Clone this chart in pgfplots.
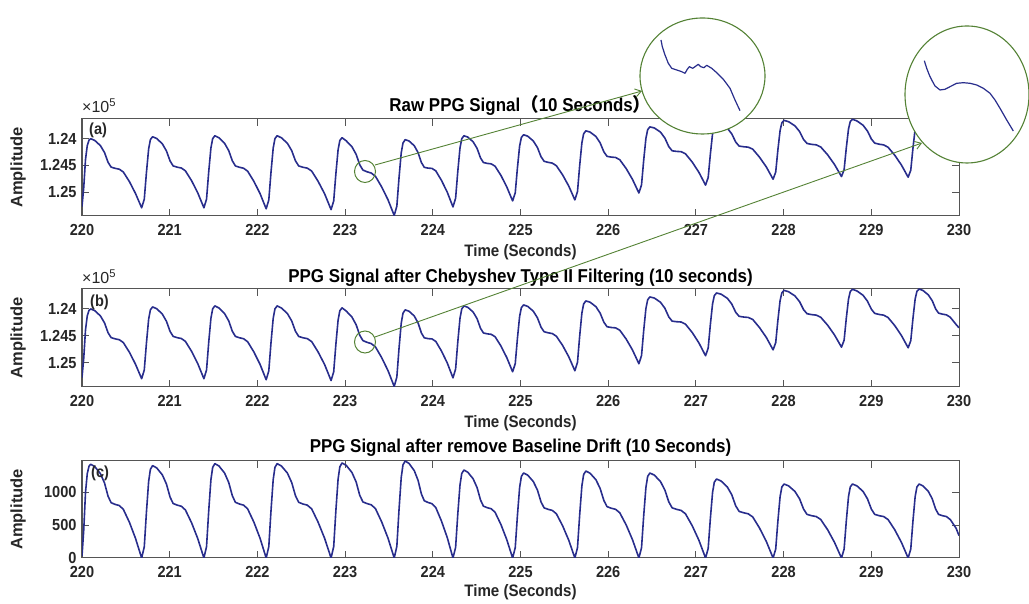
\documentclass[border=0pt]{standalone}
\usepackage{pgfplots}
\pgfplotsset{compat=1.18}
\usepackage{pgfplotstable}
\usepackage{fontspec}
\setmainfont{Liberation Sans}[FakeStretch=0.91]
\newfontfamily\plainsans{Liberation Sans}
\newfontfamily\cjk{Noto Sans CJK SC}
\usetikzlibrary{arrows.meta}

\definecolor{sig}{RGB}{40,45,140}
\definecolor{zoomgreen}{RGB}{84,130,53}
\definecolor{axgray}{RGB}{85,85,85}
\definecolor{txt}{RGB}{38,38,38}

% t = time (s), a = raw / filtered amplitude, c = after baseline removal
\pgfplotstableread{
t a c
220.000 125274 28
220.020 124910 426
220.040 124390 994
220.060 124130 1278
220.080 124026 1392
220.100 124000 1420
220.146 124033 1385
220.210 124130 1278
220.257 124260 1136
220.297 124442 937
220.332 124533 838
220.378 124556 812
220.425 124572 795
220.471 124624 738
220.541 124806 540
220.610 125027 298
220.680 125296 0
220.710 125136 168
220.735 124630 700
220.760 124190 1162
220.780 124016 1344
220.805 123963 1400
220.852 123996 1365
220.916 124096 1260
220.963 124230 1120
221.004 124416 924
221.039 124510 826
221.086 124534 801
221.133 124550 784
221.179 124603 728
221.250 124789 532
221.320 125016 294
221.390 125296 0
221.420 125134 172
221.445 124620 715
221.470 124174 1187
221.490 123998 1373
221.515 123944 1430
221.562 123983 1394
221.626 124087 1287
221.673 124223 1144
221.714 124414 944
221.749 124510 844
221.796 124536 818
221.843 124554 801
221.889 124610 744
221.960 124800 543
222.030 125029 300
222.100 125315 0
222.130 125150 172
222.155 124629 715
222.180 124177 1187
222.200 123999 1373
222.225 123944 1430
222.274 123983 1394
222.342 124086 1287
222.391 124223 1144
222.434 124415 944
222.471 124511 844
222.520 124536 818
222.569 124552 801
222.619 124607 744
222.692 124799 543
222.766 125032 300
222.840 125330 0
222.870 125168 173
222.895 124655 720
222.920 124209 1195
222.940 124034 1382
222.965 123980 1440
223.013 124040 1404
223.078 124151 1296
223.126 124294 1152
223.167 124489 950
223.203 124588 850
223.251 124621 824
223.298 124644 806
223.346 124705 749
223.417 124905 547
223.489 125145 302
223.560 125440 0
223.590 125266 176
223.615 124731 735
223.640 124266 1220
223.660 124080 1411
223.685 124018 1470
223.729 124043 1433
223.789 124132 1323
223.832 124261 1176
223.870 124447 970
223.903 124537 867
223.947 124552 841
223.990 124557 823
224.034 124603 764
224.099 124782 559
224.165 125004 309
224.230 125280 0
224.260 125117 160
224.285 124613 667
224.310 124176 1106
224.330 124001 1280
224.355 123944 1333
224.399 123970 1300
224.460 124058 1200
224.505 124182 1066
224.544 124360 880
224.577 124446 786
224.621 124463 762
224.666 124472 746
224.710 124516 693
224.777 124689 507
224.843 124902 280
224.910 125167 0
224.940 125018 155
224.965 124547 644
224.990 124137 1069
225.010 123976 1236
225.035 123926 1288
225.082 123952 1256
225.146 124043 1159
225.193 124165 1030
225.234 124338 850
225.269 124424 760
225.316 124444 737
225.363 124458 721
225.409 124507 670
225.480 124678 489
225.550 124888 270
225.620 125148 0
225.650 124990 158
225.675 124501 659
225.700 124077 1094
225.720 123907 1265
225.745 123852 1318
225.793 123875 1285
225.860 123958 1186
225.908 124078 1054
225.951 124248 870
225.987 124331 778
226.035 124345 754
226.084 124352 738
226.132 124395 685
226.205 124560 501
226.277 124763 277
226.350 125018 0
226.380 124866 155
226.405 124399 644
226.430 123993 1069
226.450 123831 1236
226.475 123778 1288
226.526 123798 1256
226.596 123876 1159
226.646 123987 1030
226.691 124149 850
226.729 124227 760
226.780 124238 737
226.831 124243 721
226.881 124283 670
226.958 124438 489
227.034 124630 270
227.110 124870 0
227.140 124728 144
227.165 124288 599
227.190 123906 994
227.210 123754 1149
227.235 123704 1197
227.287 123726 1167
227.358 123802 1077
227.409 123909 958
227.454 124063 790
227.493 124138 706
227.545 124151 685
227.596 124158 670
227.648 124196 622
227.725 124346 455
227.803 124530 251
227.880 124760 0
227.910 124627 135
227.935 124208 561
227.960 123846 930
227.980 123702 1076
228.005 123655 1121
228.057 123681 1093
228.129 123758 1009
228.182 123865 897
228.228 124015 740
228.267 124089 661
228.319 124106 641
228.372 124115 628
228.424 124156 583
228.503 124304 426
228.581 124485 235
228.660 124710 0
228.690 124581 135
228.715 124172 561
228.740 123818 930
228.760 123678 1076
228.785 123635 1121
228.836 123666 1093
228.906 123747 1009
228.956 123856 897
229.001 124006 740
229.039 124083 661
229.090 124103 641
229.141 124116 628
229.191 124160 583
229.268 124311 426
229.344 124495 235
229.420 124722 0
229.450 124591 135
229.475 124176 561
229.500 123816 930
229.520 123674 1076
229.545 123630 1121
229.589 123657 1093
229.650 123739 1009
229.695 123848 897
229.734 124001 740
229.767 124078 661
229.811 124097 641
229.856 124110 628
229.900 124154 583
229.967 124290 450
230.000 124350 340
}\ppg

\pgfplotsset{
  ppgpanel/.style={
    scale only axis, width=877pt, anchor=south west,
    xmin=220, xmax=230, xtick={220,221,...,230},
    axis line style={axgray, line width=1pt},
    every tick/.style={axgray, line width=1pt},
    major tick length=7pt,
    tick label style={font=\fontsize{16}{17}\selectfont\bfseries, text=txt},
    xticklabel style={yshift=-5pt},
    yticklabel style={xshift=-2pt},
    /pgf/number format/assume math mode=true,
    /pgf/number format/1000 sep={},
    scaled y ticks=false,
  },
  sigline/.style={sig, line width=1.6pt, line join=round},
}

\begin{document}
\begin{tikzpicture}
\useasboundingbox (0,0) rectangle (1029pt,604pt);

\begin{axis}[ppgpanel, name=pa, at={(82pt,388pt)}, height=97pt,
  y dir=reverse, ymin=123630, ymax=125450,
  ytick={124000,124500,125000}, yticklabels={1.24,1.245,1.25}]
\addplot[sigline] table[x=t, y=a]{\ppg};
\end{axis}

\begin{axis}[ppgpanel, name=pb, at={(82pt,217pt)}, height=98pt,
  y dir=reverse, ymin=123630, ymax=125450,
  ytick={124000,124500,125000}, yticklabels={1.24,1.245,1.25}]
\addplot[sigline] table[x=t, y=a]{\ppg};
\end{axis}

\begin{axis}[ppgpanel, name=pc, at={(82pt,46pt)}, height=97pt,
  ymin=0, ymax=1470, ytick={0,500,1000}]
\addplot[sigline] table[x=t, y=c]{\ppg};
\end{axis}

% titles and labels
\tikzset{ttl/.style={anchor=base, font=\fontsize{18.6}{20}\selectfont\bfseries, text=black},
         xl/.style={anchor=base, font=\fontsize{16.6}{18}\selectfont\bfseries, text=txt},
         yl/.style={rotate=90, font=\plainsans\fontsize{16.5}{18}\selectfont\bfseries, text=txt},
         pl/.style={anchor=base west, inner sep=0pt, font=\fontsize{16}{17}\selectfont\bfseries, text=txt},
         ex/.style={anchor=base west, inner sep=0pt, font=\plainsans\fontsize{16}{18}\selectfont, text=txt}}

\node[ttl, yshift=7pt] at (pa.north) {Raw PPG Signal{\cjk（}10 Seconds{\cjk）}};
\node[ttl, yshift=6pt] at (pb.north) {PPG Signal after Chebyshev Type II Filtering (10 seconds)};
\node[ttl, yshift=8pt] at (pc.north) {PPG Signal after remove Baseline Drift (10 Seconds)};

\node[xl, yshift=-41pt] at (pa.south) {Time (Seconds)};
\node[xl, yshift=-41pt] at (pb.south) {Time (Seconds)};
\node[xl, yshift=-39pt] at (pc.south) {Time (Seconds)};

\node[yl] at (18pt,436.5pt) {Amplitude};
\node[yl] at (18pt,266pt) {Amplitude};
\node[yl] at (18pt,94.5pt) {Amplitude};

\node[ex] at (82pt,491pt) {×10\textsuperscript{5}};
\node[ex] at (82pt,320pt) {×10\textsuperscript{5}};

\node[pl] at (89pt,469pt) {(a)};
\node[pl] at (90pt,297pt) {(b)};
\node[pl] at (91pt,126pt) {(c)};

% zoom markers
\draw[zoomgreen, line width=1pt] (365pt,432.5pt) ellipse [x radius=10.5pt, y radius=11pt];
\draw[zoomgreen, line width=1pt] (365pt,262pt) ellipse [x radius=10.5pt, y radius=11pt];
\draw[zoomgreen, line width=0.9pt, -{Straight Barb[length=6pt,width=8pt]}] (375pt,439pt) -- (642pt,513pt);
\draw[zoomgreen, line width=0.9pt, -{Straight Barb[length=6pt,width=8pt]}] (375pt,267pt) -- (922pt,461pt);
\filldraw[draw=zoomgreen, fill=white, line width=1.1pt] (702.5pt,528pt) ellipse [x radius=62.5pt, y radius=58pt];
\filldraw[draw=zoomgreen, fill=white, line width=1.1pt] (967pt,509.5pt) ellipse [x radius=62pt, y radius=68.5pt];

% magnified views
\begin{axis}[at={(655pt,489pt)}, anchor=south west, scale only axis,
  width=90pt, height=80pt, xmin=655, xmax=745, ymin=35, ymax=115,
  y dir=reverse, axis lines=none, clip=false]
\addplot[sig, line width=1.2pt, line join=round] coordinates {
(661.0,40.0) (662.3,46.7) (665.0,55.0) (668.3,63.3) (671.7,68.3) (676.7,70.0)
(681.7,71.7) (685.0,73.3) (687.3,69.3) (689.3,66.7) (692.7,68.3) (695.0,66.7)
(698.3,64.3) (700.7,66.7) (704.0,67.7) (706.7,65.3) (711.7,68.3) (716.7,72.7)
(723.3,79.3) (730.0,88.3) (735.0,100.0) (740.0,110.7)
};
\end{axis}

\begin{axis}[at={(920pt,469pt)}, anchor=south west, scale only axis,
  width=98pt, height=80pt, xmin=920, xmax=1018, ymin=55, ymax=135,
  y dir=reverse, axis lines=none, clip=false]
\addplot[sig, line width=1.2pt, line join=round] coordinates {
(924.3,60.7) (926.7,68.3) (929.3,75.0) (931.7,80.0) (935.0,86.0) (940.0,90.0)
(945.0,89.3) (950.0,86.7) (956.7,83.3) (963.3,82.7) (970.0,83.3) (976.7,85.0)
(983.3,88.3) (990.0,93.3) (995.0,100.0) (1000.0,108.3) (1006.7,120.0) (1013.3,131.0)
};
\end{axis}
\end{tikzpicture}
\end{document}
